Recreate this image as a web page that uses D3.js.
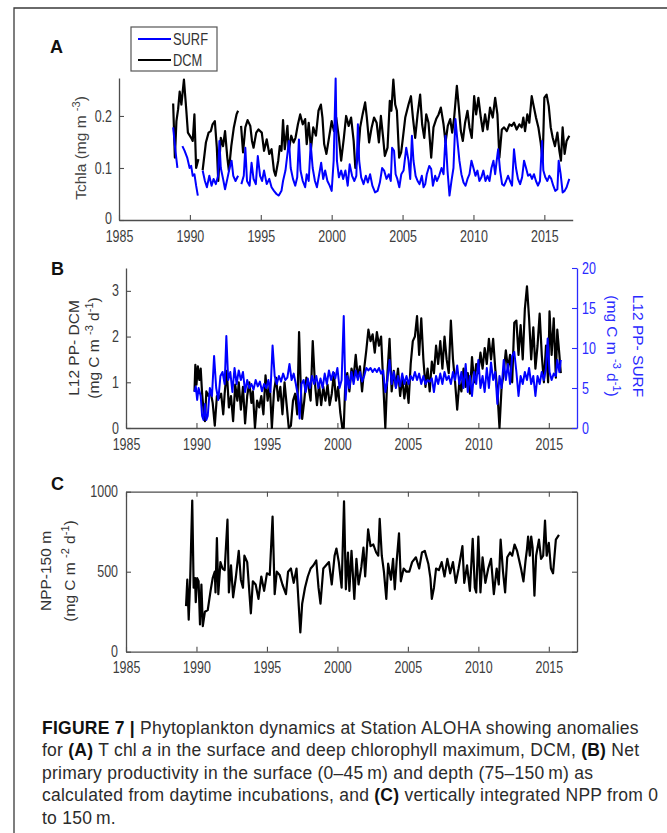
<!DOCTYPE html>
<html>
<head>
<meta charset="utf-8">
<script src="https://cdn.jsdelivr.net/npm/d3@7"></script>
<style>
  body { margin: 0; background: #fff; }
  svg { display: block; }
</style>
</head>
<body>
<script>
//---- data: [decimal year, value], null marks a gap ----
var xTicks = [1985, 1990, 1995, 2000, 2005, 2010, 2015];
var tchlTicks = [0, 0.1, 0.2];
var ppDcmTicks = [0, 1, 2, 3];
var ppSurfTicks = [0, 5, 10, 15, 20];
var nppTicks = [0, 500, 1000];

//panel A, Tchla at the DCM (mg m-3)
var tchlDcm = [
  [1988.82,0.224],[1988.94,0.12],[1989.05,0.19],[1989.17,0.213],[1989.28,0.247],[1989.4,0.222],[1989.58,0.27],
  [1989.75,0.21],[1989.86,0.168],[1990.09,0.158],[1990.2,0.152],[1990.32,0.203],[1990.44,0.1],[1990.6,0.117],[1990.75,null],
  [1990.9,0.096],[1991.13,0.149],[1991.32,0.168],[1991.48,0.171],[1991.6,0.184],[1991.76,0.19],[1991.9,0.139],[1992.0,0.075],
  [1992.18,0.158],[1992.34,0.142],[1992.48,0.171],[1992.64,0.12],[1992.75,0.095],[1992.92,0.142],[1993.1,0.178],[1993.29,0.203],
  [1993.4,0.21],[1993.5,null],
  [1993.61,0.181],[1993.75,0.13],[1993.91,0.178],[1994.07,0.192],[1994.26,0.181],[1994.38,0.152],[1994.49,0.139],[1994.68,0.168],
  [1994.84,0.174],[1995.07,0.168],[1995.23,0.133],[1995.42,0.155],[1995.6,0.127],[1995.76,0.136],[1995.93,0.095],[1996.04,0.085],
  [1996.23,0.114],[1996.34,0.142],[1996.46,0.133],[1996.57,0.192],[1996.69,0.136],[1996.88,0.181],[1996.97,0.133],[1997.15,0.162],
  [1997.31,0.149],[1997.45,0.158],[1997.62,0.184],[1997.78,0.203],[1997.96,0.184],[1998.13,0.194],[1998.24,0.146],[1998.38,0.187],
  [1998.54,0.136],[1998.7,0.178],[1998.89,0.162],[1999.07,0.21],[1999.24,0.222],[1999.35,0.197],[1999.47,0.146],[1999.63,0.127],
  [1999.81,0.158],[2000.0,0.19],[2000.16,0.171],[2000.32,0.197],[2000.51,0.158],[2000.67,0.114],[2000.86,0.158],[2001.02,0.2],
  [2001.2,0.181],[2001.37,0.197],[2001.55,0.152],[2001.67,0.1],[2001.85,0.12],[2002.01,0.178],[2002.18,0.203],[2002.36,0.226],
  [2002.48,0.197],[2002.64,0.149],[2002.82,0.178],[2002.99,0.197],[2003.17,0.187],[2003.33,0.149],[2003.47,0.2],[2003.63,0.158],
  [2003.75,0.123],[2003.94,0.139],[2004.1,0.229],[2004.21,0.21],[2004.35,0.27],[2004.48,0.222],[2004.6,0.21],[2004.76,0.12],
  [2004.9,0.13],[2005.0,0.152],[2005.19,0.197],[2005.42,0.222],[2005.59,0.238],[2005.73,0.197],[2005.89,0.158],[2006.06,0.203],
  [2006.24,0.241],[2006.38,0.184],[2006.53,0.158],[2006.67,0.203],[2006.83,0.187],[2007.02,0.12],[2007.18,0.178],[2007.37,0.194],
  [2007.54,0.203],[2007.7,0.216],[2007.89,0.184],[2008.03,0.149],[2008.19,0.181],[2008.36,0.194],[2008.5,0.168],[2008.64,0.197],
  [2008.83,0.258],[2008.97,0.216],[2009.11,0.171],[2009.25,0.152],[2009.41,0.187],[2009.58,0.21],[2009.72,0.178],[2009.88,0.158],
  [2010.05,0.238],[2010.19,0.203],[2010.35,0.235],[2010.52,0.197],[2010.66,0.171],[2010.82,0.203],[2010.99,0.174],[2011.17,0.216],
  [2011.36,0.197],[2011.53,0.235],[2011.69,0.203],[2011.83,0.12],[2012.0,0.174],[2012.16,0.178],[2012.35,0.171],[2012.54,0.184],
  [2012.7,0.181],[2012.86,0.187],[2013.05,0.174],[2013.24,0.184],[2013.4,0.178],[2013.52,0.197],[2013.64,0.171],[2013.8,0.203],
  [2013.94,0.187],[2014.11,0.238],[2014.27,0.216],[2014.41,0.197],[2014.58,0.178],[2014.74,0.149],[2014.88,0.114],[2015.0,0.235],
  [2015.16,0.241],[2015.31,0.219],[2015.45,0.178],[2015.59,0.158],[2015.75,0.142],[2015.92,0.168],[2016.06,0.133],[2016.17,0.114],
  [2016.29,0.178],[2016.43,0.127],[2016.57,0.152],[2016.76,0.162]
];

//panel A, Tchla at the surface (mg m-3)
var tchlSurf = [
  [1988.82,0.178],[1988.98,0.133],[1989.12,0.1],[1989.3,null],
  [1989.47,0.142],[1989.63,0.133],[1989.81,0.12],[1989.98,0.1],[1990.09,0.104],[1990.2,0.085],[1990.32,0.088],[1990.44,0.066],
  [1990.56,0.047],[1990.75,null],
  [1990.9,0.095],[1991.06,0.075],[1991.2,0.063],[1991.37,0.085],[1991.53,0.066],[1991.67,0.079],[1991.83,0.069],[1991.99,0.085],
  [1992.08,0.152],[1992.18,0.1],[1992.34,0.079],[1992.48,0.059],[1992.64,0.079],[1992.8,0.1],[1992.94,0.114],[1993.06,0.085],
  [1993.22,0.075],[1993.4,0.085],[1993.5,null],
  [1993.63,0.069],[1993.8,0.085],[1993.91,0.139],[1994.03,0.075],[1994.21,0.066],[1994.35,0.11],[1994.49,0.079],[1994.65,0.069],
  [1994.79,0.123],[1994.95,0.085],[1995.09,0.075],[1995.23,0.095],[1995.42,0.069],[1995.6,0.079],[1995.76,0.063],[1995.93,0.056],
  [1996.11,0.05],[1996.27,0.047],[1996.46,0.056],[1996.57,0.075],[1996.74,0.095],[1996.88,0.127],[1996.99,0.152],[1997.11,0.1],
  [1997.27,0.079],[1997.43,0.066],[1997.57,0.082],[1997.69,0.155],[1997.8,0.095],[1997.96,0.075],[1998.13,0.063],[1998.24,0.088],
  [1998.38,0.075],[1998.52,0.146],[1998.66,0.1],[1998.82,0.075],[1998.96,0.063],[1999.12,0.088],[1999.26,0.11],[1999.4,0.079],
  [1999.54,0.095],[1999.7,0.075],[1999.86,0.066],[2000.0,0.056],[2000.14,0.114],[2000.28,0.272],[2000.37,0.114],[2000.51,0.082],
  [2000.67,0.095],[2000.81,0.079],[2000.97,0.095],[2001.13,0.066],[2001.27,0.107],[2001.44,0.085],[2001.6,0.075],[2001.74,0.085],
  [2001.85,0.184],[2001.94,0.114],[2002.08,0.082],[2002.25,0.069],[2002.41,0.085],[2002.55,0.072],[2002.71,0.088],[2002.87,0.066],
  [2003.06,0.053],[2003.24,0.056],[2003.4,0.072],[2003.56,0.1],[2003.7,0.095],[2003.87,0.079],[2004.03,0.088],[2004.17,0.075],
  [2004.26,0.139],[2004.4,0.133],[2004.51,0.088],[2004.63,0.079],[2004.77,0.063],[2004.91,0.088],[2005.07,0.095],[2005.26,0.139],
  [2005.42,0.114],[2005.54,0.079],[2005.66,0.162],[2005.77,0.114],[2005.92,0.085],[2006.06,0.075],[2006.2,0.069],[2006.36,0.085],
  [2006.48,0.063],[2006.6,0.069],[2006.71,0.088],[2006.88,0.104],[2007.02,0.098],[2007.14,0.066],[2007.3,0.085],[2007.42,0.075],
  [2007.58,0.085],[2007.75,0.1],[2007.89,0.088],[2008.03,0.162],[2008.17,0.095],[2008.31,0.047],[2008.45,0.075],[2008.59,0.1],
  [2008.73,0.194],[2008.87,0.152],[2009.01,0.114],[2009.15,0.088],[2009.3,0.072],[2009.44,0.066],[2009.58,0.079],[2009.72,0.088],
  [2009.86,0.114],[2010.0,0.1],[2010.14,0.085],[2010.28,0.095],[2010.42,0.075],[2010.56,0.082],[2010.7,0.095],[2010.85,0.075],
  [2010.99,0.085],[2011.13,0.075],[2011.27,0.1],[2011.41,0.114],[2011.53,0.088],[2011.64,0.114],[2011.74,0.136],[2011.88,0.095],
  [2012.02,0.069],[2012.16,0.066],[2012.3,0.075],[2012.44,0.085],[2012.58,0.075],[2012.72,0.066],[2012.86,0.136],[2013.0,0.1],
  [2013.14,0.079],[2013.29,0.069],[2013.43,0.082],[2013.57,0.114],[2013.71,0.1],[2013.85,0.085],[2013.99,0.088],[2014.13,0.079],
  [2014.27,0.088],[2014.41,0.075],[2014.55,0.066],[2014.69,0.075],[2014.84,0.152],[2014.93,0.095],[2015.07,0.082],[2015.21,0.075],
  [2015.35,0.085],[2015.49,0.079],[2015.63,0.066],[2015.77,0.056],[2015.92,0.059],[2016.01,0.114],[2016.15,0.088],[2016.29,0.053],
  [2016.43,0.056],[2016.57,0.063],[2016.76,0.079]
];

//panel B, L12 primary production at the DCM (left axis)
var ppDcm = [
  [1989.86,0.8],[1989.92,1.38],[1990.0,0.95],[1990.1,1.35],[1990.2,1.05],[1990.3,1.3],[1990.4,0.75],[1990.5,0.4],[1990.6,0.15],
  [1990.7,0.8],[1990.85,0.7],[1991.0,0.8],[1991.15,0.55],[1991.3,0.05],[1991.45,0.7],[1991.6,0.65],[1991.75,0.75],[1991.9,0.3],
  [1992.0,0.75],[1992.15,1.25],[1992.3,0.45],[1992.45,0.7],[1992.6,0.15],[1992.75,0.95],[1992.9,0.6],[1993.0,1.0],[1993.15,0.4],
  [1993.3,0.9],[1993.45,0.1],[1993.6,0.7],[1993.75,1.0],[1993.9,0.55],[1994.0,0.8],[1994.15,0.0],[1994.3,0.6],[1994.45,0.45],
  [1994.6,0.7],[1994.75,0.3],[1994.9,1.15],[1995.05,0.6],[1995.2,0.95],[1995.35,0.0],[1995.5,0.8],[1995.65,1.1],[1995.8,0.6],
  [1995.95,0.9],[1996.1,0.3],[1996.25,1.0],[1996.4,0.5],[1996.55,0.0],[1996.7,0.05],[1996.85,0.6],[1997.0,0.75],[1997.15,0.3],
  [1997.28,2.1],[1997.4,0.9],[1997.5,0.2],[1997.65,0.6],[1997.8,1.1],[1997.95,0.9],[1998.1,0.6],[1998.25,1.9],[1998.4,1.0],
  [1998.55,0.5],[1998.7,0.95],[1998.85,0.5],[1999.0,0.9],[1999.15,0.6],[1999.3,0.95],[1999.45,0.5],[1999.6,0.75],[1999.75,1.2],
  [1999.9,0.6],[2000.05,0.9],[2000.2,0.35],[2000.35,0.0],[2000.45,0.0],[2000.55,0.9],[2000.7,1.2],[2000.85,0.8],[2001.0,1.3],
  [2001.15,1.1],[2001.3,1.6],[2001.45,1.1],[2001.6,1.35],[2001.75,0.8],[2001.9,1.3],[2002.05,1.7],[2002.2,2.15],[2002.35,1.9],
  [2002.5,2.05],[2002.65,1.65],[2002.8,2.1],[2002.95,1.8],[2003.1,2.0],[2003.25,1.0],[2003.4,0.0],[2003.55,1.2],[2003.7,1.95],
  [2003.85,0.8],[2004.0,1.25],[2004.15,0.9],[2004.3,1.3],[2004.45,0.7],[2004.6,1.1],[2004.75,0.65],[2004.9,1.0],[2005.05,0.55],
  [2005.2,1.4],[2005.35,1.9],[2005.5,2.0],[2005.65,2.45],[2005.8,1.6],[2005.95,2.4],[2006.1,1.5],[2006.25,0.9],[2006.4,1.3],
  [2006.55,0.8],[2006.7,1.45],[2006.85,1.2],[2007.0,1.8],[2007.15,1.4],[2007.3,1.9],[2007.45,1.3],[2007.6,2.0],[2007.75,1.5],
  [2007.9,1.2],[2008.05,2.35],[2008.2,1.5],[2008.35,1.0],[2008.5,0.4],[2008.65,1.0],[2008.8,0.8],[2008.95,1.3],[2009.1,0.9],
  [2009.25,1.2],[2009.4,0.75],[2009.55,1.55],[2009.7,1.0],[2009.85,1.4],[2010.0,1.2],[2010.15,1.65],[2010.3,1.3],[2010.45,1.75],
  [2010.6,1.4],[2010.75,1.95],[2010.9,1.5],[2011.05,1.95],[2011.2,1.3],[2011.35,0.8],[2011.5,0.0],[2011.65,0.9],[2011.8,1.2],
  [2011.95,1.7],[2012.1,1.3],[2012.25,1.6],[2012.4,1.0],[2012.55,2.3],[2012.7,2.35],[2012.85,1.6],[2013.0,2.25],[2013.15,1.5],
  [2013.3,2.6],[2013.45,3.1],[2013.6,2.4],[2013.75,1.5],[2013.9,2.2],[2014.05,1.3],[2014.2,1.8],[2014.35,2.5],[2014.5,1.6],
  [2014.65,1.0],[2014.8,1.8],[2014.95,1.0],[2015.05,2.55],[2015.2,1.6],[2015.35,2.4],[2015.5,1.1],[2015.6,2.15],[2015.75,1.6],
  [2015.85,1.2]
];

//panel B, L12 primary production at the surface (right axis)
var ppSurf = [
  [1989.86,4.5],[1989.95,5.2],[1990.05,3.5],[1990.15,5.0],[1990.3,4.0],[1990.4,1.5],[1990.5,1.0],[1990.6,3.0],[1990.7,1.0],
  [1990.8,1.5],[1990.95,5.0],[1991.1,4.0],[1991.25,9.0],[1991.4,5.0],[1991.55,3.5],[1991.7,6.5],[1991.85,7.0],[1992.0,5.5],
  [1992.12,11.5],[1992.25,6.0],[1992.4,7.0],[1992.55,4.5],[1992.7,7.5],[1992.85,5.5],[1993.0,7.2],[1993.15,6.0],[1993.3,7.0],
  [1993.45,4.5],[1993.6,6.0],[1993.75,5.0],[1993.9,5.5],[1994.05,4.8],[1994.2,6.0],[1994.35,5.2],[1994.5,5.8],[1994.65,4.6],
  [1994.8,5.5],[1994.95,5.0],[1995.1,6.0],[1995.25,4.5],[1995.4,10.3],[1995.55,6.5],[1995.7,5.5],[1995.85,6.5],[1996.0,5.8],
  [1996.15,6.8],[1996.3,6.0],[1996.45,6.3],[1996.6,8.0],[1996.75,6.0],[1996.9,6.8],[1997.05,5.5],[1997.2,4.0],[1997.32,1.2],
  [1997.45,5.5],[1997.6,6.0],[1997.75,4.5],[1997.9,6.2],[1998.05,5.0],[1998.2,6.5],[1998.35,5.5],[1998.5,6.5],[1998.65,5.0],
  [1998.8,6.2],[1998.95,5.0],[1999.1,6.8],[1999.25,5.5],[1999.4,7.2],[1999.55,6.0],[1999.7,7.0],[1999.85,6.2],[2000.0,7.5],
  [2000.15,5.0],[2000.3,6.0],[2000.45,14.0],[2000.58,3.5],[2000.7,6.5],[2000.85,5.0],[2001.0,7.0],[2001.15,5.5],[2001.3,7.2],
  [2001.45,6.0],[2001.6,7.0],[2001.75,5.8],[2001.9,6.5],[2002.05,7.5],[2002.2,7.2],[2002.35,7.5],[2002.5,7.0],[2002.65,7.4],
  [2002.8,7.0],[2002.95,7.5],[2003.1,6.8],[2003.25,7.2],[2003.4,4.5],[2003.55,6.0],[2003.7,8.5],[2003.85,5.5],[2004.0,7.0],
  [2004.15,5.0],[2004.3,6.5],[2004.45,5.2],[2004.6,6.8],[2004.75,5.5],[2004.9,6.5],[2005.05,5.5],[2005.2,6.5],[2005.35,6.0],
  [2005.5,7.0],[2005.65,6.0],[2005.8,6.8],[2005.95,5.5],[2006.1,6.5],[2006.25,5.5],[2006.4,6.0],[2006.55,5.8],[2006.7,6.2],
  [2006.85,4.5],[2007.0,6.5],[2007.15,5.5],[2007.3,6.8],[2007.45,5.5],[2007.6,7.0],[2007.75,6.0],[2007.9,6.5],[2008.05,5.5],
  [2008.2,7.0],[2008.35,6.0],[2008.5,7.8],[2008.65,5.5],[2008.8,7.0],[2008.95,5.0],[2009.1,8.0],[2009.25,4.5],[2009.4,6.5],
  [2009.55,4.0],[2009.7,7.0],[2009.85,5.5],[2010.0,8.5],[2010.15,5.0],[2010.3,6.5],[2010.45,4.5],[2010.6,7.5],[2010.75,5.0],
  [2010.9,8.2],[2011.05,6.0],[2011.2,7.0],[2011.35,3.0],[2011.5,6.5],[2011.65,5.0],[2011.8,8.5],[2011.95,6.0],[2012.1,8.0],
  [2012.25,5.5],[2012.4,9.0],[2012.55,9.5],[2012.7,7.0],[2012.85,4.0],[2013.0,6.5],[2013.15,5.5],[2013.3,7.0],[2013.45,6.0],
  [2013.6,7.5],[2013.75,5.5],[2013.9,6.5],[2014.05,4.0],[2014.2,6.5],[2014.35,5.5],[2014.5,7.0],[2014.65,6.0],[2014.8,7.5],
  [2014.92,11.2],[2015.05,7.0],[2015.2,6.0],[2015.35,6.8],[2015.5,6.5],[2015.6,8.5],[2015.75,7.0],[2015.85,8.5]
];

//panel C, depth-integrated NPP 0-150 m
var npp = [
  [1989.26,285],[1989.35,450],[1989.45,200],[1989.55,440],[1989.7,945],[1989.8,400],[1989.9,460],[1989.95,310],[1990.05,460],
  [1990.15,440],[1990.25,170],[1990.35,420],[1990.45,160],[1990.6,250],[1990.8,260],[1991.0,380],[1991.15,460],[1991.3,500],
  [1991.35,370],[1991.45,710],[1991.55,360],[1991.7,560],[1991.85,520],[1992.0,510],[1992.2,825],[1992.3,370],[1992.45,540],
  [1992.6,340],[1992.8,470],[1993.0,630],[1993.15,450],[1993.3,400],[1993.4,600],[1993.6,560],[1993.86,240],[1994.0,440],
  [1994.2,420],[1994.4,330],[1994.6,470],[1994.8,380],[1995.0,490],[1995.2,480],[1995.4,845],[1995.55,360],[1995.7,500],
  [1995.9,480],[1996.1,420],[1996.35,360],[1996.5,500],[1996.7,520],[1996.9,430],[1997.1,520],[1997.37,120],[1997.5,300],
  [1997.7,400],[1997.9,470],[1998.1,520],[1998.3,540],[1998.5,570],[1998.66,400],[1998.8,300],[1999.0,520],[1999.2,540],
  [1999.4,560],[1999.6,420],[1999.8,600],[1999.93,645],[2000.1,560],[2000.3,400],[2000.47,940],[2000.6,390],[2000.75,620],
  [2000.85,380],[2001.0,630],[2001.2,330],[2001.35,580],[2001.5,420],[2001.7,530],[2001.85,650],[2001.97,470],[2002.18,765],
  [2002.35,660],[2002.55,670],[2002.75,620],[2002.9,600],[2003.0,830],[2003.15,600],[2003.3,500],[2003.47,330],[2003.6,550],
  [2003.8,450],[2003.95,580],[2004.07,390],[2004.2,560],[2004.37,740],[2004.5,440],[2004.7,520],[2004.9,500],[2005.1,500],
  [2005.3,560],[2005.57,590],[2005.8,520],[2006.0,620],[2006.2,630],[2006.45,550],[2006.6,460],[2006.7,330],[2006.85,400],
  [2007.0,520],[2007.2,510],[2007.4,560],[2007.6,470],[2007.8,580],[2008.0,490],[2008.2,560],[2008.4,430],[2008.6,520],
  [2008.87,660],[2009.0,430],[2009.2,540],[2009.4,380],[2009.6,705],[2009.75,400],[2009.85,370],[2010.0,720],[2010.15,370],
  [2010.3,590],[2010.5,430],[2010.7,520],[2010.9,580],[2011.1,360],[2011.3,520],[2011.45,420],[2011.58,700],[2011.75,500],
  [2011.9,370],[2012.05,590],[2012.25,620],[2012.4,600],[2012.57,670],[2012.75,630],[2012.9,570],[2013.05,510],[2013.2,440],
  [2013.35,570],[2013.45,640],[2013.53,720],[2013.65,600],[2013.75,720],[2013.85,650],[2013.98,350],[2014.1,600],[2014.3,700],
  [2014.45,580],[2014.6,600],[2014.73,820],[2014.85,600],[2015.0,680],[2015.15,520],[2015.3,490],[2015.5,700],[2015.72,730]
];

var captionLines = [
  [["b", "FIGURE 7 | "], ["", "Phytoplankton dynamics at Station ALOHA showing anomalies"]],
  [["", "for "], ["b", "(A)"], ["", " T chl "], ["i", "a"], ["", " in the surface and deep chlorophyll maximum, DCM, "], ["b", "(B)"], ["", " Net"]],
  [["", "primary productivity in the surface (0\u201345\u2009m) and depth (75\u2013150\u2009m) as"]],
  [["", "calculated from daytime incubations, and "], ["b", "(C)"], ["", " vertically integrated NPP from 0"]],
  [["", "to 150\u2009m."]]
];

(function () {

    var W = 667, H = 833;
    var sans = "'Liberation Sans', Arial, sans-serif";
    var squeeze = 0.78; //tick labels are set in a condensed face
    var axisGray = "#4d4d4d";
    var blue = "#0000ff";
    var axisBlue = "#2a2aff";

    var svg = d3.select("body").append("svg")
        .attr("width", W)
        .attr("height", H);

    //figure frame (top and left edges)
    svg.append("path")
        .attr("d", "M14," + H + "V8H" + W)
        .attr("fill", "none")
        .attr("stroke", "#3a3a3a")
        .attr("stroke-width", 1.3);

    var line = function (x, y) {
        return d3.line()
            .defined(function (d) { return d[1] !== null; })
            .x(function (d) { return x(d[0]); })
            .y(function (d) { return y(d[1]); });
    };

    //shared look of axes, labels squeezed horizontally
    function styleAxis(g, color) {
        g.attr("font-family", sans).attr("font-size", 16);
        g.select(".domain").attr("stroke", color).attr("stroke-width", 1.3);
        g.selectAll(".tick line").attr("stroke", color).attr("stroke-width", 1.1);
        g.selectAll(".tick text")
            .attr("fill", color === axisGray ? "#3d3d3d" : color)
            .each(function () {
                var t = d3.select(this);
                var x = +t.attr("x") || 0;
                t.attr("x", x / squeeze).attr("transform", "scale(" + squeeze + ",1)");
            });
    }

    function panelLabel(txt, x, y) {
        svg.append("text")
            .attr("x", x).attr("y", y)
            .attr("font-family", sans)
            .attr("font-weight", "bold")
            .attr("font-size", 18)
            .attr("fill", "#111")
            .text(txt);
    }

    //rotated axis title; parts are [text, isSuperscript]
    function axisTitle(parts, x, y, angle, color) {
        var t = svg.append("text")
            .attr("transform", "translate(" + x + "," + y + ") rotate(" + angle + ")")
            .attr("text-anchor", "middle")
            .attr("font-family", sans)
            .attr("font-size", 15.5)
            .attr("fill", color);
        var raised = false;
        parts.forEach(function (p) {
            var s = t.append("tspan").text(p[0]);
            if (p[1] && !raised) {
                s.attr("dy", -6).attr("font-size", 11);
                raised = true;
            } else if (p[1]) {
                s.attr("font-size", 11);
            } else if (raised) {
                s.attr("dy", 6);
                raised = false;
            }
        });
    }

    //----- panel A -----
    var xA = d3.scaleLinear().domain([1985, 2017]).range([119, 572.7]);
    var yA = d3.scaleLinear().domain([0, 0.273]).range([220, 78]);

    var gxA = svg.append("g").attr("transform", "translate(0,220)")
        .call(d3.axisBottom(xA).tickValues(xTicks).tickFormat(d3.format("d"))
            .tickSize(-5).tickSizeOuter(0).tickPadding(11));
    styleAxis(gxA, axisGray);
    var gyA = svg.append("g").attr("transform", "translate(119,0)")
        .call(d3.axisLeft(yA).tickValues(tchlTicks)
            .tickFormat(function (d) { return d === 0 ? "0" : d3.format(".1f")(d); })
            .tickSize(-5).tickSizeOuter(0).tickPadding(7));
    styleAxis(gyA, axisGray);
    //the zero label sits right on the corner, lift it a touch clear of 1985
    gyA.selectAll(".tick text").filter(function (d) { return d === 0; }).attr("y", -2);

    svg.append("path").datum(tchlDcm)
        .attr("d", line(xA, yA)).attr("fill", "none")
        .attr("stroke", "#000").attr("stroke-width", 2.2).attr("stroke-linejoin", "round");
    svg.append("path").datum(tchlSurf)
        .attr("d", line(xA, yA)).attr("fill", "none")
        .attr("stroke", blue).attr("stroke-width", 2).attr("stroke-linejoin", "round");

    axisTitle([["Tchla (mg m "], ["-3", true], [")"]], 86, 148, -90, "#444");
    panelLabel("A", 50, 53);

    //legend
    var leg = svg.append("g");
    leg.append("rect").attr("x", 131).attr("y", 27).attr("width", 86).attr("height", 44)
        .attr("fill", "#fff").attr("stroke", "#555").attr("stroke-width", 1.2);
    [["SURF", blue, 39], ["DCM", "#000", 60]].forEach(function (e) {
        leg.append("line").attr("x1", 138).attr("x2", 171).attr("y1", e[2]).attr("y2", e[2])
            .attr("stroke", e[1]).attr("stroke-width", 2.2);
        leg.append("text").attr("x", 173 / squeeze).attr("y", e[2]).attr("dy", "0.36em")
            .attr("transform", "scale(" + squeeze + ",1)")
            .attr("font-family", sans).attr("font-size", 16.5).attr("fill", "#333")
            .text(e[0]);
    });

    //----- panel B -----
    var xB = d3.scaleLinear().domain([1985, 2017]).range([126, 577]);
    var yBl = d3.scaleLinear().domain([0, 3.5]).range([428, 268]);
    var yBr = d3.scaleLinear().domain([0, 20]).range([428, 268]);

    var gxB = svg.append("g").attr("transform", "translate(0,428)")
        .call(d3.axisBottom(xB).tickValues(xTicks).tickFormat(d3.format("d"))
            .tickSize(-5).tickSizeOuter(0).tickPadding(11));
    styleAxis(gxB, axisGray);
    var gyBl = svg.append("g").attr("transform", "translate(126,0)")
        .call(d3.axisLeft(yBl).tickValues(ppDcmTicks).tickFormat(d3.format("d"))
            .tickSize(-5).tickSizeOuter(0).tickPadding(7));
    styleAxis(gyBl, axisGray);
    var gyBr = svg.append("g").attr("transform", "translate(577,0)")
        .call(d3.axisRight(yBr).tickValues(ppSurfTicks).tickFormat(d3.format("d"))
            .tickSize(-5).tickSizeOuter(0).tickPadding(5));
    styleAxis(gyBr, axisBlue);

    svg.append("path").datum(ppDcm)
        .attr("d", line(xB, yBl)).attr("fill", "none")
        .attr("stroke", "#000").attr("stroke-width", 2.2).attr("stroke-linejoin", "round");
    svg.append("path").datum(ppSurf)
        .attr("d", line(xB, yBr)).attr("fill", "none")
        .attr("stroke", blue).attr("stroke-width", 2).attr("stroke-linejoin", "round");

    axisTitle([["L12 PP- DCM"]], 79, 348, -90, "#333");
    axisTitle([["(mg C m "], ["-3", true], [" d"], ["-1", true], [")"]], 99, 348, -90, "#333");
    axisTitle([["L12 PP- SURF"]], 633, 346, 90, axisBlue);
    axisTitle([["(mg C m "], ["-3", true], [" d"], ["-1", true], [")"]], 607, 346, 90, axisBlue);
    panelLabel("B", 51, 275);

    //----- panel C -----
    var xC = d3.scaleLinear().domain([1985, 2017]).range([126, 577]);
    var yC = d3.scaleLinear().domain([0, 1000]).range([651.7, 491.7]);

    var gxC = svg.append("g").attr("transform", "translate(0,651.7)")
        .call(d3.axisBottom(xC).tickValues(xTicks).tickFormat(d3.format("d"))
            .tickSize(-5).tickSizeOuter(0).tickPadding(10));
    styleAxis(gxC, axisGray);
    var gyC = svg.append("g").attr("transform", "translate(126,0)")
        .call(d3.axisLeft(yC).tickValues(nppTicks).tickFormat(d3.format("d"))
            .tickSize(-5).tickSizeOuter(0).tickPadding(8));
    styleAxis(gyC, axisGray);
    //box: top and right edges with mirrored ticks
    var gtC = svg.append("g").attr("transform", "translate(0,491.7)")
        .call(d3.axisTop(xC).tickValues(xTicks).tickFormat("").tickSize(-5).tickSizeOuter(0));
    styleAxis(gtC, axisGray);
    var grC = svg.append("g").attr("transform", "translate(577,0)")
        .call(d3.axisRight(yC).tickValues(nppTicks).tickFormat("").tickSize(-5).tickSizeOuter(0));
    styleAxis(grC, axisGray);

    svg.append("path").datum(npp)
        .attr("d", line(xC, yC)).attr("fill", "none")
        .attr("stroke", "#000").attr("stroke-width", 2.2).attr("stroke-linejoin", "round");

    axisTitle([["NPP-150 m"]], 51, 571, -90, "#333");
    axisTitle([["(mg C m "], ["-2", true], [" d"], ["-1", true], [")"]], 75, 571, -90, "#333");
    panelLabel("C", 51, 490);

    //----- caption -----
    var cap = svg.append("g")
        .attr("font-family", sans)
        .attr("font-size", 17.5)
        .attr("letter-spacing", "0.25px")
        .attr("fill", "#2b2b2b");
    captionLines.forEach(function (parts, i) {
        var t = cap.append("text")
            .attr("x", 42)
            .attr("y", 734 + i * 22.4)
            .style("white-space", "pre");
        parts.forEach(function (p) {
            var s = t.append("tspan").text(p[1]);
            if (p[0] === "b") s.attr("font-weight", "bold").attr("fill", "#111");
            if (p[0] === "i") s.attr("font-style", "italic");
        });
    });

})();
</script>
</body>
</html>
